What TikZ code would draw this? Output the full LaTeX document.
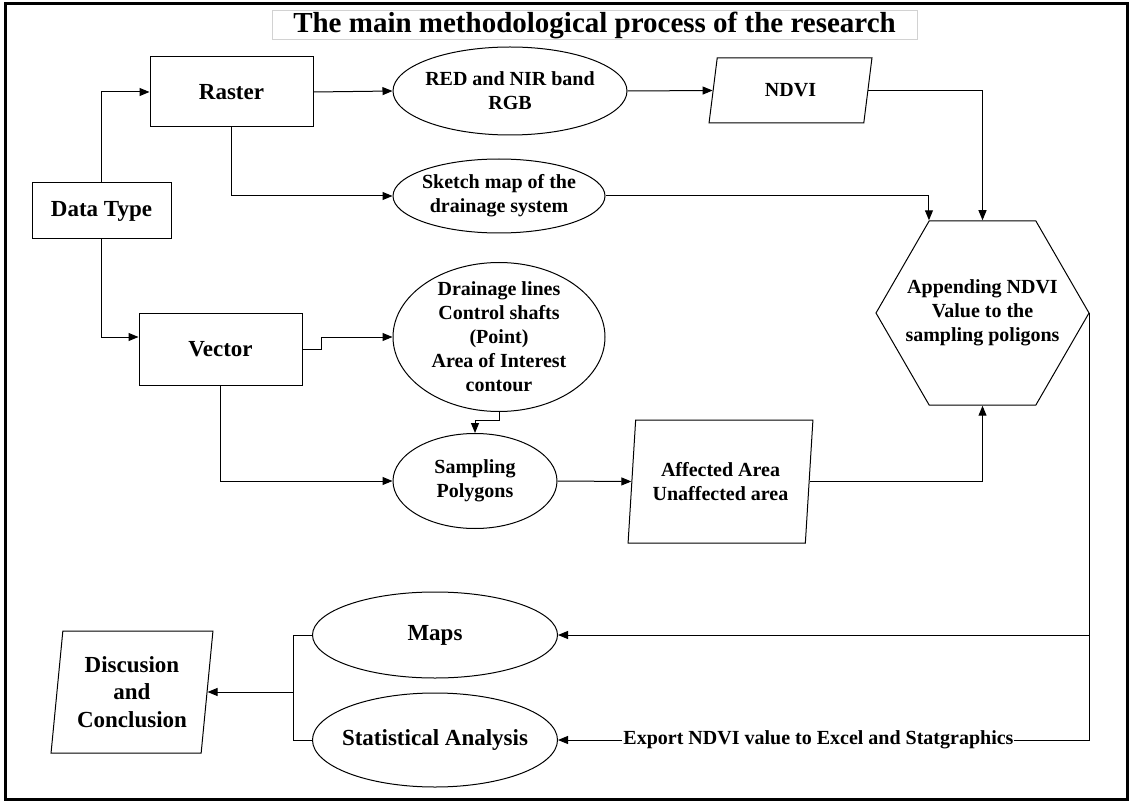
\documentclass[tikz,border=0pt]{standalone}
\usepackage{fontspec}
\setmainfont{Liberation Serif}
\usetikzlibrary{shapes.geometric,arrows.meta}

\begin{document}
\begin{tikzpicture}[x=1pt, y=-1pt, line width=1pt,
	>={Triangle[length=10pt,width=8pt]},
	every node/.style={font=\bfseries\fontsize{20}{24}\selectfont, align=center, inner sep=0pt},
	big/.style={font=\bfseries\fontsize{23}{27.5}\selectfont},
	box/.style={draw, rectangle, big},
	oval/.style={draw, ellipse, inner sep=-12pt},
	para/.style={draw, trapezium, trapezium stretches=true},
	hexa/.style={draw, regular polygon, regular polygon sides=6, inner sep=-20pt, minimum size=213pt}]
	\useasboundingbox (0,0) rectangle (1132,802);
	\draw[line width=3pt] (5.5,3.5) rectangle (1127.5,799.5);

	\node[draw=gray!35, font=\bfseries\fontsize{29}{30}\selectfont, minimum width=645pt, minimum height=29pt] (title) at (594.5,25) {The main methodological process of the research};

	\node[box, minimum width=163pt, minimum height=70pt] (raster) at (231.5,92) {Raster};
	\node[box, minimum width=139pt, minimum height=56pt] (dtype) at (101.5,211) {Data Type};
	\node[box, minimum width=163pt, minimum height=72pt] (vector) at (220.5,349) {Vector};

	\node[oval, minimum width=234pt, minimum height=88pt] (red) at (510,91) {RED and NIR band\\RGB};
	\node[oval, minimum width=212pt, minimum height=74pt] (sketch) at (499,196) {Sketch map of the\\drainage system};
	\node[oval, minimum width=212pt, minimum height=149pt] (drain) at (499,337) {Drainage lines\\Control shafts\\(Point)\\Area of Interest\\contour};
	\node[oval, minimum width=164pt, minimum height=95pt] (samp) at (475,481) {Sampling\\Polygons};
	\node[oval, big, minimum width=245pt, minimum height=86pt] (maps) at (435,635) {Maps};
	\node[oval, big, minimum width=245pt, minimum height=94pt] (stat) at (435,740) {Statistical Analysis};

	\node[para, trapezium left angle=78, trapezium right angle=102, minimum width=163pt, minimum height=65pt] (ndvi) at (790.5,90.5) {NDVI};
	\node[para, trapezium left angle=81, trapezium right angle=99, minimum width=185pt, minimum height=123pt] (aff) at (720.5,481.5) {Affected Area\\Unaffected area};
	\node[para, big, trapezium left angle=82.5, trapezium right angle=97.5, minimum width=162pt, minimum height=122pt] (disc) at (132,692) {Discusion\\and\\Conclusion};

	\node[hexa] (hex) at (982.5,313) {Appending NDVI\\Value to the\\sampling poligons};

	\draw[->] (dtype.north) |- (raster.west);
	\draw[->] (dtype.south) |- ([yshift=12pt]vector.west);
	\draw[->] (raster.east) -- (red.west);
	\draw[->] (red.east) -- (ndvi.west);
	\draw[->] (raster.south) |- (sketch.west);
	\draw[->] (ndvi.east) -| (hex.north);
	\draw[->] (sketch.east) -| (hex.120);
	\draw[->] (vector.east) -- ++(19,0) |- (drain.west);
	\draw[->] (vector.south) |- (samp.west);
	\draw[->] (drain.south) -- ++(0,8) -| (samp.north);
	\draw[->] (samp.east) -- (aff.west);
	\draw[->] (aff.east) -| (hex.south);
	\draw[->] (hex.east) |- (maps.east);
	\draw[->] (hex.east) |- node[pos=0.755, fill=white, inner xsep=1pt] {Export NDVI value to Excel and Statgraphics} (stat.east);
	\draw (maps.west) -- ++(-19,0) coordinate (fork) |- (stat.west);
	\draw[->] (fork |- disc.east) -- (disc.east);
\end{tikzpicture}
\end{document}
